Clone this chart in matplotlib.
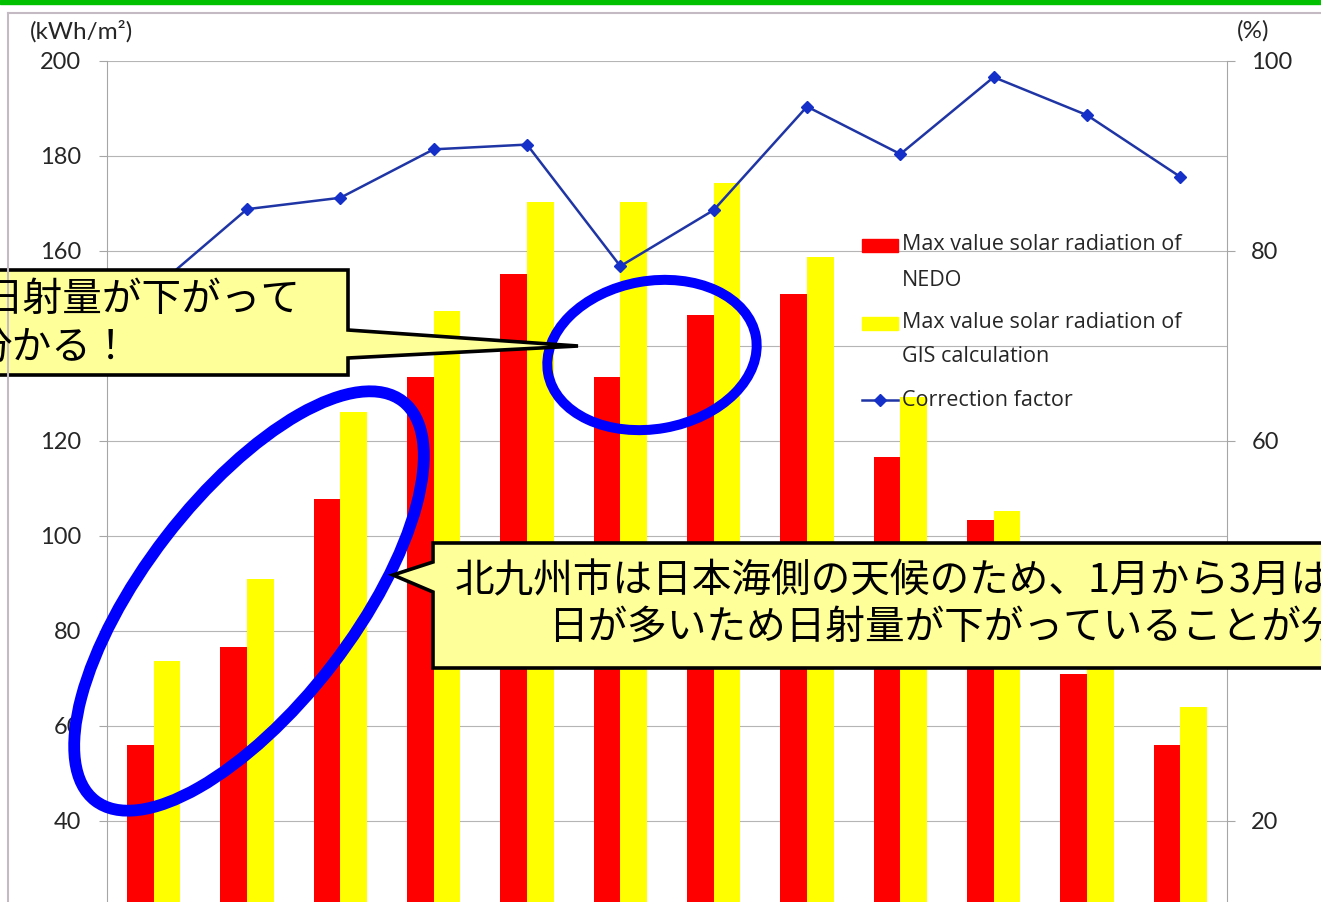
import numpy as np
import matplotlib.pyplot as plt
from matplotlib.patches import Ellipse, Polygon, Rectangle
from matplotlib.lines import Line2D

# data
months = ['1月', '2月', '3月', '4月', '5月', '6月', '7月', '8月', '9月', '10月', '11月', '12月']
nedo = [56.0, 76.6, 107.8, 133.5, 155.2, 133.5, 146.5, 151.0, 116.6, 103.4, 71.0, 56.0]
gis = [73.7, 91.0, 126.1, 147.4, 170.3, 170.3, 174.3, 158.7, 129.3, 105.3, 75.3, 64.0]
factor = [76.0, 84.4, 85.6, 90.7, 91.2, 78.4, 84.3, 95.2, 90.2, 98.3, 94.3, 87.8]
labels = ['Max value solar radiation of\nNEDO', 'Max value solar radiation of\nGIS calculation', 'Correction factor']

note_left = ['日射量が下がって', '分かる！']
note_right = ['北九州市は日本海側の天候のため、1月から3月は曇りの',
              '日が多いため日射量が下がっていることが分かる！']

W, H = 1321, 902
LAT = ['Lato', 'DejaVu Sans']
OPS = ['Open Sans', 'DejaVu Sans']
JP = ['Noto Sans CJK JP', 'DejaVu Sans']
grey = '#A6A6A6'
txt = '#262626'

plt.rcParams['font.family'] = LAT

fig = plt.figure(figsize=(W / 100, H / 100), dpi=100)
ax = fig.add_axes([107 / W, 0, 1120 / W, 1 - 61 / H])

x = np.arange(len(months))
w = 0.285
ax.bar(x - w / 2, nedo, w, color='#FF0000', label=labels[0])
ax.bar(x + w / 2, gis, w, color='#FFFF00', label=labels[1])
ax.set_yticks(range(0, 201, 20))
ax.set_xticks(x)
ax.set_xlim(-0.5, 11.5)
ax.set_ylim(22.9, 200)
ax.grid(axis='y', color='#B5B5B5', lw=0.8)
ax.set_axisbelow(True)
for s in ['top', 'right', 'bottom']:
    ax.spines[s].set_visible(False)
ax.spines['left'].set_color(grey)
ax.tick_params(axis='y', length=5.5, width=0.8, color=grey, labelsize=17, labelcolor=txt, pad=13)
ax.tick_params(axis='x', length=0, labelbottom=False)

ax2 = ax.twinx()
ax2.plot(x, factor, color='#1F35A5', lw=1.8, marker='D', ms=6.5,
         mfc='#1530C8', mec='#1530C8', label=labels[2])
ax2.set_yticks(range(0, 101, 20))
ax2.set_ylim(22.9 / 2, 100)
for s in ['top', 'left', 'bottom']:
    ax2.spines[s].set_visible(False)
ax2.spines['right'].set_color(grey)
ax2.tick_params(axis='y', length=5.5, width=0.8, color=grey, labelsize=17, labelcolor=txt, pad=12)

# overlay in pixel coordinates for the slide decorations
ov = fig.add_axes([0, 0, 1, 1])
ov.set_xlim(0, W)
ov.set_ylim(H, 0)
ov.axis('off')

ov.add_patch(Rectangle((0, 0), W, 4, color='#00C000'))
ov.plot([8, W], [13, 13], color='#C4BAC4', lw=1.5)
ov.plot([8, 8], [13, H], color='#C4BAC4', lw=1.5)

ov.text(30, 31, '(kWh/m²)', fontsize=17.5, color=txt, va='center')
ov.text(1237, 31, '(%)', fontsize=17.5, color=txt, va='center')

# legend
ov.add_patch(Rectangle((862, 239), 36, 13, color='#FF0000'))
ov.add_patch(Rectangle((862, 317), 36, 13, color='#FFFF00'))
ov.add_line(Line2D([862, 898], [400, 400], color='#1F35A5', lw=1.8))
ov.add_line(Line2D([880], [400], marker='D', ms=6.5, color='#1530C8'))
leg_y = [[245, 280], [323, 357], [400]]
for lab, ys in zip(labels, leg_y):
    for line, yy in zip(lab.split('\n'), ys):
        ov.text(902, yy, line, fontsize=15.5, family=OPS, color=txt, va='center')

# blue ellipses
ov.add_patch(Ellipse((249, 601), 504, 210, angle=-52.4, fill=False, ec='#0000FF', lw=8.5))
ov.add_patch(Ellipse((652, 355), 211, 148, angle=-10, fill=False, ec='#0000FF', lw=7.2))

# callouts
left_box = [(-10, 270), (348, 270), (348, 330), (578, 346), (348, 358), (348, 375), (-10, 375)]
ov.add_patch(Polygon(left_box, closed=True, fc='#FFFF99', ec='black', lw=2.6, joinstyle='miter'))
ov.text(-17, 300, note_left[0], fontsize=28.5, family=JP, va='center')
ov.text(-28, 348, note_left[1], fontsize=28.5, family=JP, va='center')

right_box = [(433, 543), (1340, 543), (1340, 668), (433, 668), (433, 592), (393, 575), (433, 562)]
ov.add_patch(Polygon(right_box, closed=True, fc='#FFFF99', ec='black', lw=2.6, joinstyle='miter'))
ov.text(455, 581, note_right[0], fontsize=28.5, family=JP, va='center')
ov.text(548, 628, note_right[1], fontsize=28.5, family=JP, va='center')

fig.savefig('out.png', dpi=100)
